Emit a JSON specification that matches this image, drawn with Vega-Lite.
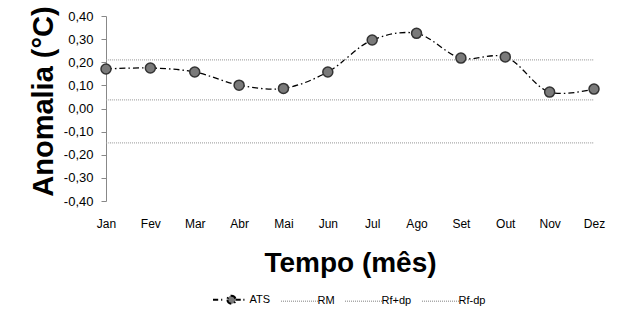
{
  "$schema": "https://vega.github.io/schema/vega-lite/v6.json",
  "autosize": "none",
  "padding": {"left": 106, "top": 16, "right": 25, "bottom": 109},
  "width": 488,
  "height": 185,
  "background": "white",
  "config": {"view": {"stroke": null}},
  "data": {
    "values": [
      {"mes": "Jan", "ATS": 0.171, "RM": 0.037, "Rf+dp": 0.21, "Rf-dp": -0.149},
      {"mes": "Fev", "ATS": 0.175, "RM": 0.037, "Rf+dp": 0.21, "Rf-dp": -0.149},
      {"mes": "Mar", "ATS": 0.158, "RM": 0.037, "Rf+dp": 0.21, "Rf-dp": -0.149},
      {"mes": "Abr", "ATS": 0.101, "RM": 0.037, "Rf+dp": 0.21, "Rf-dp": -0.149},
      {"mes": "Mai", "ATS": 0.087, "RM": 0.037, "Rf+dp": 0.21, "Rf-dp": -0.149},
      {"mes": "Jun", "ATS": 0.158, "RM": 0.037, "Rf+dp": 0.21, "Rf-dp": -0.149},
      {"mes": "Jul", "ATS": 0.296, "RM": 0.037, "Rf+dp": 0.21, "Rf-dp": -0.149},
      {"mes": "Ago", "ATS": 0.325, "RM": 0.037, "Rf+dp": 0.21, "Rf-dp": -0.149},
      {"mes": "Set", "ATS": 0.218, "RM": 0.037, "Rf+dp": 0.21, "Rf-dp": -0.149},
      {"mes": "Out", "ATS": 0.223, "RM": 0.037, "Rf+dp": 0.21, "Rf-dp": -0.149},
      {"mes": "Nov", "ATS": 0.071, "RM": 0.037, "Rf+dp": 0.21, "Rf-dp": -0.149},
      {"mes": "Dez", "ATS": 0.084, "RM": 0.037, "Rf+dp": 0.21, "Rf-dp": -0.149}
    ]
  },
  "transform": [{"fold": ["ATS", "RM", "Rf+dp", "Rf-dp"], "as": ["serie", "valor"]}],
  "encoding": {
    "x": {
      "field": "mes", "type": "ordinal", "sort": null,
      "scale": {"type": "point", "padding": 0},
      "axis": {
        "title": "Tempo (mês)", "labelAngle": 0, "domain": false, "ticks": false,
        "labelPadding": 17, "labelFont": "Liberation Sans", "labelFontSize": 12, "labelColor": "#000",
        "titleFont": "Liberation Sans", "titleFontSize": 28, "titleFontWeight": "bold", "titleColor": "#000",
        "titlePadding": 20
      }
    },
    "y": {
      "field": "valor", "type": "quantitative",
      "scale": {"domain": [-0.4, 0.4], "nice": false, "zero": false},
      "axis": {
        "title": "Anomalia (°C)", "values": [-0.4, -0.3, -0.2, -0.1, 0, 0.1, 0.2, 0.3, 0.4],
        "labelExpr": "replace(replace(format(datum.value, '.2f'), '.', ','), '\u2212', '-')",
        "grid": false, "domainColor": "#888", "tickColor": "#888", "tickSize": 5,
        "labelPadding": 8, "labelFont": "Liberation Sans", "labelFontSize": 13, "labelColor": "#000",
        "titleFont": "Liberation Sans", "titleFontSize": 29, "titleFontWeight": "bold", "titleColor": "#000",
        "titlePadding": 5, "titleY": 85
      }
    }
  },
  "layer": [
    {
      "mark": {"type": "line", "interpolate": "catmull-rom", "strokeWidth": 1.3},
      "encoding": {
        "color": {
          "field": "serie", "type": "nominal",
          "scale": {"domain": ["ATS", "RM", "Rf+dp", "Rf-dp"], "range": ["#000000", "#aaaaaa", "#aaaaaa", "#aaaaaa"]},
          "legend": {
            "orient": "none", "legendX": 120, "legendY": 278, "direction": "horizontal", "title": null,
            "symbolType": "stroke", "symbolSize": 1369, "symbolStrokeWidth": 1.3,
            "labelFont": "Liberation Sans", "labelFontSize": 11, "labelColor": "#000",
            "labelOffset": 12.5, "columnPadding": 7,
            "encode": {
              "symbols": {
                "update": {
                  "shape": {"signal": "datum.value === 'ATS' ? 'M-1,0L-0.72,0M-0.56,0L-0.5,0M-0.22,0A0.22,0.22,0,1,0,0.22,0A0.22,0.22,0,1,0,-0.22,0M0.22,0L0.5,0M0.64,0L0.7,0' : 'stroke'"},
                  "strokeDash": {"signal": "datum.value === 'ATS' ? [] : [1, 1]"},
                  "fill": {"signal": "datum.value === 'ATS' ? '#7a7a7a' : 'transparent'"},
                  "strokeWidth": {"signal": "datum.value === 'ATS' ? 2 : 1.3"}
                }
              }
            }
          }
        },
        "strokeDash": {
          "field": "serie", "type": "nominal",
          "scale": {"domain": ["ATS", "RM", "Rf+dp", "Rf-dp"], "range": [[6, 3, 1.5, 3], [1, 1], [1, 1], [1, 1]]},
          "legend": null
        }
      }
    },
    {
      "transform": [{"filter": "datum.serie === 'ATS'"}],
      "mark": {"type": "point", "shape": "circle", "filled": true, "size": 100, "fill": "#7a7a7a", "stroke": "#333", "strokeWidth": 1.5, "opacity": 1},
      "encoding": {}
    }
  ]
}
